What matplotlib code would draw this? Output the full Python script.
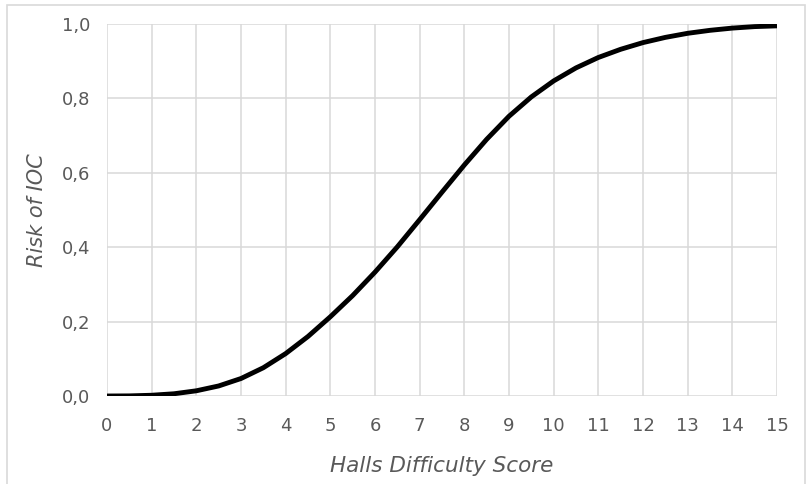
import matplotlib
matplotlib.use("Agg")
import matplotlib.pyplot as plt
from matplotlib.patches import Rectangle

score = [0, 0.5, 1, 1.5, 2, 2.5, 3, 3.5, 4, 4.5, 5, 5.5, 6, 6.5, 7, 7.5,
         8, 8.5, 9, 9.5, 10, 10.5, 11, 11.5, 12, 12.5, 13, 13.5, 14, 14.5, 15]
risk = [0.0, 0.0003, 0.002, 0.006, 0.014, 0.027, 0.047, 0.076, 0.114, 0.160,
        0.213, 0.270, 0.333, 0.401, 0.474, 0.548, 0.621, 0.690, 0.752, 0.804,
        0.847, 0.882, 0.910, 0.932, 0.950, 0.964, 0.975, 0.983, 0.989, 0.993, 0.995]
xticks = list(range(0, 16))
xlabels = [str(v) for v in xticks]
yticks = [0.0, 0.2, 0.4, 0.6, 0.8, 1.0]
ylabels = ["0,0", "0,2", "0,4", "0,6", "0,8", "1,0"]

W, H = 809, 484
fig = plt.figure(figsize=(W / 100, H / 100), dpi=100)
plt.rcParams['font.family'] = ['DejaVu Sans']

fig.patches.append(Rectangle((7 / W, -0.1), (805 - 7) / W, 1.1 - 5 / H,
                             transform=fig.transFigure, fill=False,
                             edgecolor='#d9d9d9', linewidth=1.2))

ax = fig.add_axes([107 / W, 1 - 396 / H, (777 - 107) / W, (396 - 24) / H])
ax.plot(score, risk, color='black', linewidth=3.5, solid_capstyle='butt',
        solid_joinstyle='round', zorder=3)
ax.set_xlim(0, 15)
ax.set_ylim(0, 1)
ax.set_xticks(xticks)
ax.set_xticklabels(xlabels)
ax.set_yticks(yticks)
ax.set_yticklabels(ylabels)
ax.grid(True, color='#d9d9d9', linewidth=1.1)
ax.set_axisbelow(True)
for s in ax.spines.values():
    s.set_visible(False)
ax.tick_params(length=0, labelsize=13, colors='#595959')
ax.tick_params(axis='y', pad=12)
ax.tick_params(axis='x', pad=15)
ax.set_xlabel("Halls Difficulty Score", fontsize=15.5, style='italic', color='#595959', labelpad=15)
ax.set_ylabel("Risk of IOC", fontsize=15, style='italic', color='#595959', labelpad=11)

fig.savefig("out.png", dpi=100)
